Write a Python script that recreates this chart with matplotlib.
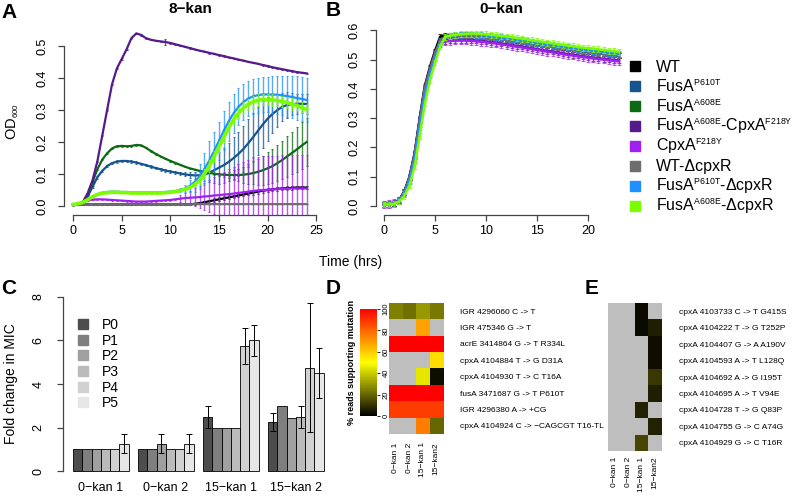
import numpy as np
import matplotlib
matplotlib.use("Agg")
import matplotlib.pyplot as plt
from matplotlib.lines import Line2D
from matplotlib.colors import LinearSegmentedColormap
import matplotlib._mathtext as mtx

plt.rcParams['font.family'] = ['Liberation Sans', 'DejaVu Sans']
plt.rcParams['mathtext.fontset'] = 'custom'
plt.rcParams['mathtext.rm'] = 'Liberation Sans'
plt.rcParams['mathtext.it'] = 'Liberation Sans:italic'
plt.rcParams['mathtext.bf'] = 'Liberation Sans:bold'
mtx.SHRINK_FACTOR = 0.55  # R draws the super/subscripts quite small

W, H = 794, 501

# ---------------- strains (legend order) ----------------
strains = ['WT',
           'FusA$^{\\mathregular{P610T}}$',
           'FusA$^{\\mathregular{A608E}}$',
           'FusA$^{\\mathregular{A608E}}$-CpxA$^{\\mathregular{F218Y}}$',
           'CpxA$^{\\mathregular{F218Y}}$',
           'WT-\u0394cpxR',
           'FusA$^{\\mathregular{P610T}}$-\u0394cpxR',
           'FusA$^{\\mathregular{A608E}}$-\u0394cpxR']
colors = ['#000000', '#17538c', '#0b6a12', '#551a8b', '#a020f0',
          '#6e6e6e', '#1e90ff', '#7cfc00']

# ---------------- panel A: 8-kan, OD600 every 0.5 h ----------------
time_a = np.arange(0, 24.5, 0.5)
od_a = [
    [0.005, 0.005, 0.005, 0.005, 0.005, 0.005, 0.005, 0.005, 0.005, 0.005,
     0.005, 0.005, 0.005, 0.005, 0.005, 0.005, 0.005, 0.005, 0.005, 0.005,
     0.005, 0.005, 0.005, 0.005, 0.005, 0.007, 0.009, 0.012, 0.015, 0.018,
     0.021, 0.024, 0.027, 0.030, 0.033, 0.036, 0.039, 0.042, 0.045, 0.048,
     0.050, 0.052, 0.054, 0.055, 0.056, 0.057, 0.058, 0.058, 0.058],
    [0.005, 0.007, 0.012, 0.030, 0.060, 0.090, 0.110, 0.125, 0.134, 0.139,
     0.141, 0.141, 0.139, 0.136, 0.132, 0.128, 0.123, 0.119, 0.115, 0.111,
     0.108, 0.105, 0.102, 0.099, 0.097, 0.096, 0.096, 0.098, 0.104, 0.112,
     0.120, 0.128, 0.138, 0.150, 0.163, 0.178, 0.196, 0.215, 0.235, 0.255,
     0.273, 0.288, 0.300, 0.310, 0.316, 0.319, 0.320, 0.320, 0.319],
    [0.005, 0.007, 0.012, 0.035, 0.075, 0.115, 0.145, 0.165, 0.180, 0.187,
     0.188, 0.187, 0.188, 0.191, 0.190, 0.182, 0.172, 0.163, 0.155, 0.148,
     0.141, 0.135, 0.129, 0.123, 0.118, 0.114, 0.110, 0.107, 0.104, 0.101,
     0.099, 0.098, 0.097, 0.097, 0.097, 0.098, 0.100, 0.103, 0.107, 0.112,
     0.118, 0.125, 0.134, 0.144, 0.155, 0.166, 0.177, 0.189, 0.200],
    [0.005, 0.007, 0.012, 0.040, 0.080, 0.140, 0.220, 0.300, 0.380, 0.430,
     0.460, 0.490, 0.525, 0.540, 0.535, 0.525, 0.520, 0.517, 0.515, 0.513,
     0.510, 0.506, 0.502, 0.498, 0.494, 0.490, 0.486, 0.483, 0.479, 0.476,
     0.472, 0.469, 0.465, 0.462, 0.458, 0.455, 0.451, 0.448, 0.445, 0.441,
     0.438, 0.434, 0.431, 0.428, 0.425, 0.422, 0.419, 0.417, 0.415],
    [0.005, 0.008, 0.013, 0.018, 0.020, 0.021, 0.021, 0.020, 0.019, 0.018,
     0.017, 0.016, 0.015, 0.014, 0.014, 0.014, 0.015, 0.016, 0.017, 0.018,
     0.019, 0.021, 0.023, 0.025, 0.026, 0.027, 0.028, 0.030, 0.031, 0.033,
     0.034, 0.036, 0.037, 0.039, 0.041, 0.043, 0.045, 0.047, 0.049, 0.050,
     0.051, 0.052, 0.053, 0.054, 0.054, 0.055, 0.055, 0.055, 0.055],
    [0.005, 0.005, 0.005, 0.005, 0.005, 0.005, 0.005, 0.005, 0.005, 0.005,
     0.005, 0.005, 0.005, 0.005, 0.005, 0.005, 0.005, 0.005, 0.005, 0.005,
     0.005, 0.005, 0.005, 0.005, 0.005, 0.006, 0.006, 0.006, 0.006, 0.006,
     0.006, 0.006, 0.006, 0.006, 0.006, 0.006, 0.006, 0.006, 0.006, 0.006,
     0.006, 0.006, 0.006, 0.006, 0.006, 0.006, 0.006, 0.006, 0.006],
    [0.005, 0.007, 0.012, 0.020, 0.030, 0.037, 0.042, 0.044, 0.045, 0.045,
     0.044, 0.044, 0.043, 0.043, 0.043, 0.043, 0.043, 0.043, 0.043, 0.044,
     0.045, 0.047, 0.050, 0.055, 0.063, 0.075, 0.092, 0.115, 0.142, 0.172,
     0.204, 0.236, 0.265, 0.290, 0.310, 0.325, 0.336, 0.343, 0.347, 0.349,
     0.349, 0.349, 0.348, 0.346, 0.344, 0.341, 0.338, 0.335, 0.332],
    [0.005, 0.007, 0.012, 0.020, 0.029, 0.036, 0.040, 0.042, 0.043, 0.043,
     0.042, 0.042, 0.041, 0.041, 0.041, 0.041, 0.041, 0.041, 0.041, 0.042,
     0.043, 0.045, 0.048, 0.052, 0.058, 0.067, 0.080, 0.100, 0.125, 0.155,
     0.185, 0.215, 0.245, 0.270, 0.290, 0.307, 0.318, 0.326, 0.331, 0.333,
     0.333, 0.332, 0.330, 0.327, 0.324, 0.319, 0.314, 0.308, 0.302],
]
sd_a = [
    [0.002, 0.002, 0.002, 0.002, 0.002, 0.002, 0.002, 0.002, 0.002, 0.002,
     0.002, 0.002, 0.002, 0.002, 0.002, 0.002, 0.002, 0.002, 0.002, 0.002,
     0.002, 0.002, 0.002, 0.002, 0.003, 0.003, 0.004, 0.005, 0.005, 0.006,
     0.006, 0.006, 0.006, 0.006, 0.006, 0.006, 0.006, 0.006, 0.006, 0.006,
     0.006, 0.006, 0.006, 0.006, 0.006, 0.006, 0.006, 0.006, 0.006],
    [0.004, 0.004, 0.004, 0.004, 0.004, 0.004, 0.004, 0.004, 0.004, 0.004,
     0.004, 0.004, 0.004, 0.004, 0.004, 0.004, 0.004, 0.004, 0.004, 0.004,
     0.004, 0.004, 0.005, 0.006, 0.008, 0.010, 0.015, 0.020, 0.030, 0.040,
     0.050, 0.055, 0.060, 0.065, 0.070, 0.072, 0.075, 0.075, 0.075, 0.072,
     0.068, 0.060, 0.052, 0.045, 0.040, 0.035, 0.032, 0.030, 0.030],
    [0.002, 0.002, 0.002, 0.002, 0.002, 0.002, 0.002, 0.002, 0.002, 0.002,
     0.002, 0.002, 0.002, 0.002, 0.002, 0.002, 0.002, 0.002, 0.002, 0.002,
     0.002, 0.002, 0.002, 0.002, 0.002, 0.002, 0.002, 0.002, 0.002, 0.003,
     0.004, 0.006, 0.010, 0.015, 0.020, 0.025, 0.030, 0.035, 0.040, 0.045,
     0.050, 0.053, 0.056, 0.060, 0.063, 0.066, 0.070, 0.073, 0.075],
    [0.002, 0.002, 0.002, 0.002, 0.002, 0.002, 0.002, 0.002, 0.002, 0.002,
     0.002, 0.002, 0.002, 0.002, 0.002, 0.002, 0.002, 0.002, 0.002, 0.010,
     0.002, 0.002, 0.002, 0.002, 0.002, 0.002, 0.002, 0.002, 0.002, 0.002,
     0.002, 0.002, 0.002, 0.002, 0.002, 0.002, 0.002, 0.002, 0.002, 0.002,
     0.002, 0.002, 0.002, 0.002, 0.002, 0.002, 0.002, 0.002, 0.002],
    [0.002, 0.002, 0.002, 0.002, 0.002, 0.002, 0.002, 0.002, 0.002, 0.002,
     0.002, 0.002, 0.002, 0.002, 0.002, 0.002, 0.002, 0.002, 0.002, 0.002,
     0.002, 0.002, 0.010, 0.015, 0.020, 0.028, 0.035, 0.042, 0.050, 0.058,
     0.065, 0.072, 0.078, 0.084, 0.090, 0.095, 0.100, 0.105, 0.105, 0.105,
     0.105, 0.105, 0.105, 0.105, 0.105, 0.105, 0.105, 0.105, 0.105],
    [0.001, 0.001, 0.001, 0.001, 0.001, 0.001, 0.001, 0.001, 0.001, 0.001,
     0.001, 0.001, 0.001, 0.001, 0.001, 0.001, 0.001, 0.001, 0.001, 0.001,
     0.001, 0.001, 0.001, 0.001, 0.001, 0.001, 0.001, 0.001, 0.001, 0.001,
     0.001, 0.001, 0.001, 0.001, 0.001, 0.001, 0.001, 0.001, 0.001, 0.001,
     0.001, 0.001, 0.001, 0.001, 0.001, 0.001, 0.001, 0.001, 0.001],
    [0.002, 0.002, 0.002, 0.002, 0.002, 0.002, 0.002, 0.002, 0.002, 0.002,
     0.002, 0.002, 0.002, 0.002, 0.002, 0.002, 0.002, 0.002, 0.002, 0.002,
     0.002, 0.003, 0.005, 0.010, 0.020, 0.030, 0.040, 0.050, 0.060, 0.060,
     0.060, 0.060, 0.060, 0.060, 0.058, 0.056, 0.055, 0.055, 0.055, 0.055,
     0.056, 0.058, 0.060, 0.062, 0.064, 0.066, 0.068, 0.070, 0.070],
    [0.002, 0.002, 0.002, 0.002, 0.002, 0.002, 0.002, 0.002, 0.002, 0.002,
     0.002, 0.002, 0.002, 0.002, 0.002, 0.002, 0.002, 0.002, 0.002, 0.002,
     0.002, 0.002, 0.002, 0.002, 0.002, 0.005, 0.010, 0.015, 0.018, 0.018,
     0.018, 0.018, 0.018, 0.018, 0.018, 0.018, 0.018, 0.018, 0.018, 0.018,
     0.018, 0.018, 0.018, 0.018, 0.018, 0.018, 0.018, 0.018, 0.018],
]

# ---------------- panel B: 0-kan, OD600 every 0.5 h ----------------
time_b = np.arange(0, 23.5, 0.5)
rise_b = [
    [0.005, 0.006, 0.009, 0.020, 0.050, 0.100, 0.180, 0.300, 0.410, 0.475, 0.530, 0.578],
    [0.005, 0.006, 0.009, 0.019, 0.047, 0.095, 0.172, 0.290, 0.400, 0.465, 0.520, 0.565],
    [0.005, 0.006, 0.009, 0.019, 0.046, 0.094, 0.170, 0.288, 0.398, 0.463, 0.518, 0.563],
    [0.005, 0.006, 0.009, 0.020, 0.048, 0.097, 0.176, 0.295, 0.405, 0.468, 0.522, 0.560],
    [0.005, 0.006, 0.009, 0.019, 0.046, 0.093, 0.168, 0.283, 0.392, 0.458, 0.512, 0.555],
    [0.005, 0.006, 0.009, 0.019, 0.047, 0.095, 0.172, 0.290, 0.400, 0.465, 0.520, 0.566],
    [0.005, 0.005, 0.008, 0.017, 0.042, 0.086, 0.158, 0.270, 0.380, 0.448, 0.505, 0.555],
    [0.005, 0.005, 0.007, 0.015, 0.035, 0.070, 0.135, 0.240, 0.350, 0.430, 0.490, 0.545],
]
plateau_b = [
    [0.584, 0.580, 0.580, 0.581, 0.581, 0.581, 0.580, 0.579, 0.577, 0.575,
     0.573, 0.571, 0.569, 0.566, 0.564, 0.561, 0.559, 0.556, 0.553, 0.550,
     0.548, 0.545, 0.542, 0.540, 0.537, 0.534, 0.532, 0.529, 0.527, 0.525,
     0.522, 0.520, 0.518, 0.516, 0.514],
    [0.578, 0.580, 0.581, 0.582, 0.582, 0.582, 0.581, 0.580, 0.578, 0.576,
     0.574, 0.572, 0.570, 0.567, 0.565, 0.562, 0.560, 0.557, 0.554, 0.551,
     0.549, 0.546, 0.543, 0.541, 0.538, 0.535, 0.533, 0.530, 0.528, 0.526,
     0.523, 0.521, 0.519, 0.517, 0.515],
    [0.580, 0.583, 0.584, 0.585, 0.585, 0.585, 0.584, 0.583, 0.581, 0.579,
     0.577, 0.575, 0.573, 0.570, 0.568, 0.565, 0.563, 0.560, 0.557, 0.554,
     0.552, 0.549, 0.546, 0.544, 0.541, 0.538, 0.536, 0.533, 0.531, 0.529,
     0.526, 0.524, 0.522, 0.520, 0.518],
    [0.565, 0.567, 0.568, 0.568, 0.568, 0.567, 0.566, 0.564, 0.562, 0.560,
     0.558, 0.555, 0.553, 0.550, 0.547, 0.545, 0.542, 0.539, 0.536, 0.533,
     0.530, 0.528, 0.525, 0.522, 0.519, 0.517, 0.514, 0.512, 0.509, 0.507,
     0.505, 0.503, 0.501, 0.499, 0.497],
    [0.562, 0.564, 0.565, 0.565, 0.565, 0.564, 0.563, 0.561, 0.559, 0.557,
     0.555, 0.552, 0.550, 0.547, 0.544, 0.542, 0.539, 0.536, 0.533, 0.530,
     0.527, 0.525, 0.522, 0.519, 0.516, 0.514, 0.511, 0.509, 0.506, 0.504,
     0.502, 0.500, 0.498, 0.496, 0.494],
    [0.576, 0.579, 0.580, 0.581, 0.581, 0.581, 0.580, 0.579, 0.577, 0.575,
     0.573, 0.571, 0.568, 0.566, 0.563, 0.561, 0.558, 0.556, 0.553, 0.550,
     0.547, 0.545, 0.542, 0.539, 0.537, 0.534, 0.531, 0.529, 0.527, 0.524,
     0.522, 0.520, 0.518, 0.516, 0.514],
    [0.575, 0.582, 0.584, 0.585, 0.586, 0.586, 0.585, 0.584, 0.582, 0.580,
     0.578, 0.576, 0.574, 0.571, 0.569, 0.566, 0.564, 0.561, 0.558, 0.555,
     0.553, 0.550, 0.547, 0.545, 0.542, 0.539, 0.537, 0.534, 0.532, 0.530,
     0.527, 0.525, 0.523, 0.521, 0.519],
    [0.578, 0.582, 0.585, 0.587, 0.588, 0.589, 0.589, 0.588, 0.587, 0.585,
     0.583, 0.581, 0.579, 0.577, 0.574, 0.572, 0.569, 0.566, 0.564, 0.561,
     0.558, 0.556, 0.553, 0.551, 0.548, 0.546, 0.543, 0.541, 0.539, 0.537,
     0.535, 0.533, 0.531, 0.529, 0.527],
]
sd_b = [0.008, 0.008, 0.008, 0.010, 0.013, 0.008, 0.010, 0.010]

# ---------------- panel C: fold change in MIC ----------------
populations = ['0\u2212kan 1', '0\u2212kan 2', '15\u2212kan 1', '15\u2212kan 2']
passages = ['P0', 'P1', 'P2', 'P3', 'P4', 'P5']
fold = [[1, 1, 1, 1, 1, 1.25],
        [1, 1, 1.25, 1, 1, 1.25],
        [2.5, 2, 2, 2, 5.75, 6],
        [2.25, 3, 2.45, 2.5, 4.75, 4.5]]
fold_err = [[0, 0, 0, 0, 0, 0.43],
            [0, 0, 0.43, 0, 0, 0.43],
            [0.5, 0, 0, 0, 0.83, 0.71],
            [0.43, 0, 0, 0.5, 2.95, 1.15]]
greys = ['#4d4d4d', '#7f7f7f', '#a0a0a0', '#bbbbbb', '#d1d1d1', '#e6e6e6']

# ---------------- panels D, E: % reads supporting mutation ----------------
seq_cols = ['0\u2212kan 1', '0\u2212kan 2', '15\u2212kan 1', '15\u2212kan2']
d_rows = ['IGR 4296060 C -> T', 'IGR 475346 G -> T', 'acrE 3414864 G -> T R334L',
          'cpxA 4104884 T -> G D31A', 'cpxA 4104930 T -> C T16A',
          'fusA 3471687 G -> T P610T', 'IGR 4296380 A -> +CG',
          'cpxA 4104924 C -> \u2212CAGCGT T16-TL']
d_vals = [[25, 22, 30, 24],
          [np.nan, np.nan, 68, np.nan],
          [100, 100, 100, 100],
          [np.nan, np.nan, np.nan, 57],
          [np.nan, np.nan, 45, 3],
          [100, 100, 100, 100],
          [88, 88, 88, 88],
          [np.nan, np.nan, 75, 20]]
e_rows = ['cpxA 4103733 C -> T G415S', 'cpxA 4104222 T -> G T252P',
          'cpxA 4104407 G -> A A190V', 'cpxA 4104593 A -> T L128Q',
          'cpxA 4104692 A -> G I195T', 'cpxA 4104695 A -> T V94E',
          'cpxA 4104728 T -> G Q83P', 'cpxA 4104755 G -> C A74G',
          'cpxA 4104929 G -> C T16R']
e_vals = [[np.nan, np.nan, 2, np.nan],
          [np.nan, np.nan, 2, 6],
          [np.nan, np.nan, np.nan, 3],
          [np.nan, np.nan, np.nan, 3],
          [np.nan, np.nan, np.nan, 11],
          [np.nan, np.nan, np.nan, 6],
          [np.nan, np.nan, 7, np.nan],
          [np.nan, np.nan, np.nan, 7],
          [np.nan, np.nan, 14, np.nan]]


def box(l, t, r, b):
    return [l / W, 1 - b / H, (r - l) / W, (b - t) / H]


def r_axes(ax, xb, yb, ypad=7):
    for s in ['top', 'right']:
        ax.spines[s].set_visible(False)
    ax.spines['left'].set_bounds(*yb)
    ax.spines['bottom'].set_bounds(*xb)
    for s in ['left', 'bottom']:
        ax.spines[s].set_color('#444444')
        ax.spines[s].set_linewidth(0.9)
    ax.tick_params(colors='#444444', labelcolor='black', length=4.5, width=0.9,
                   labelsize=9)
    ax.tick_params(axis='y', labelrotation=90, pad=ypad)
    ax.tick_params(axis='x', pad=2.5)
    for lab in ax.get_yticklabels():
        lab.set_va('center')


fig = plt.figure(figsize=(W / 100, H / 100), dpi=100)

# ---- A ----
axA = fig.add_axes(box(64, 27, 325, 215))
for i in range(8):
    lw = 2.6 if i == 7 else 1.6
    axA.errorbar(time_a, od_a[i], yerr=sd_a[i], fmt='none', ecolor=colors[i],
                 elinewidth=1.0, capsize=1.0, capthick=0.8, alpha=0.75)
    axA.plot(time_a, od_a[i], color=colors[i], lw=lw)
axA.set_xlim(-0.93, 25.9)
axA.set_ylim(-0.028, 0.56)
axA.set_xticks([0, 5, 10, 15, 20, 25])
axA.set_yticks([0, 0.1, 0.2, 0.3, 0.4, 0.5])
axA.set_yticklabels(['0.0', '0.1', '0.2', '0.3', '0.4', '0.5'])
r_axes(axA, (0, 25), (0, 0.5))
axA.set_ylabel('OD$_{600}$', fontsize=10.5, labelpad=11)
fig.text(190 / W, 1 - 9 / H, '8\u2212kan', fontsize=11, fontweight='bold', ha='center', va='center')

# ---- B ----
axB = fig.add_axes(box(376, 26, 624, 215))
for i in range(8):
    vals = rise_b[i] + plateau_b[i]
    axB.errorbar(time_b, vals, yerr=sd_b[i], fmt='none', ecolor=colors[i],
                 elinewidth=1.0, capsize=1.2, capthick=0.8, alpha=0.7)
    axB.plot(time_b, vals, color=colors[i], lw=1.8)
axB.set_xlim(-0.78, 23.5)
axB.set_ylim(-0.031, 0.615)
axB.set_xticks([0, 5, 10, 15, 20])
axB.set_yticks([0, 0.1, 0.2, 0.3, 0.4, 0.5, 0.6])
axB.set_yticklabels(['0.0', '0.1', '0.2', '0.3', '0.4', '0.5', '0.6'])
r_axes(axB, (0, 20), (0, 0.6))
fig.text(501 / W, 1 - 9 / H, '0\u2212kan', fontsize=11, fontweight='bold', ha='center', va='center')

fig.text(351 / W, 1 - 262 / H, 'Time (hrs)', ha='center', va='center', fontsize=10)

# legend of strains, one row every 20 px
for i, (lab, c) in enumerate(zip(strains, colors)):
    yc = 66 + 20 * i
    fig.add_artist(Line2D([635 / W], [1 - yc / H], marker='s', ls='none', color=c,
                          markersize=7, transform=fig.transFigure))
    fig.text(656 / W, 1 - (yc + 5.5) / H, lab, fontsize=11.5, ha='left', va='baseline')

# ---- C ----
axC = fig.add_axes(box(63, 290, 333, 478))
for g in range(4):
    for p in range(6):
        x = g * 7 + p + 0.5
        axC.bar(x, fold[g][p], width=1, color=greys[p], edgecolor='black', lw=0.6)
        if fold_err[g][p] > 0:
            axC.errorbar(x, fold[g][p], yerr=fold_err[g][p], fmt='none',
                         ecolor='black', elinewidth=0.7, capsize=2.5, capthick=0.7)
axC.set_xlim(-1.08, 28)
axC.set_ylim(-0.32, 8.32)
axC.set_yticks([0, 2, 4, 6, 8])
r_axes(axC, (0, 27), (0, 8), ypad=9)
axC.spines['bottom'].set_visible(False)
axC.set_xticks([3, 10, 17, 24])
axC.set_xticklabels(populations)
axC.tick_params(axis='x', length=0, pad=3)
axC.set_ylabel('Fold change in MIC', fontsize=10, labelpad=10)
hc = [Line2D([], [], marker='s', ls='none', color=c, markersize=6.5) for c in greys]
axC.legend(hc, passages, loc='upper left', bbox_to_anchor=((77 - 63) / 270, (478 - 318) / 188),
           frameon=False, fontsize=10, handlelength=0.8, handletextpad=1.0,
           labelspacing=0.12, borderpad=0, borderaxespad=0)

# ---- D, E ----
cmap = LinearSegmentedColormap.from_list('byr', ['black', 'yellow', 'red']).with_extremes(bad='#bebebe')


def heat(ax, vals, rows, pad_x):
    im = ax.imshow(np.ma.masked_invalid(np.array(vals, dtype=float)), cmap=cmap,
                   vmin=0, vmax=100, aspect='auto', interpolation='nearest')
    for s in ax.spines.values():
        s.set_visible(False)
    ax.yaxis.tick_right()
    ax.set_yticks(range(len(rows)))
    ax.set_yticklabels(rows, fontsize=6)
    ax.set_xticks(range(4))
    ax.set_xticklabels(seq_cols, rotation=90, fontsize=6)
    ax.tick_params(axis='y', length=0, pad=12)
    ax.tick_params(axis='x', length=0, pad=pad_x)
    return im


axD = fig.add_axes(box(389, 303, 443, 434))
imD = heat(axD, d_vals, d_rows, 6)
axE = fig.add_axes(box(608, 303, 662, 451))
heat(axE, e_vals, e_rows, 4)

cax = fig.add_axes(box(360, 309, 377, 416))
cb = fig.colorbar(imD, cax=cax, ticks=[0, 20, 40, 60, 80, 100])
cb.outline.set_visible(False)
cax.tick_params(labelsize=5.5, length=2.5, width=0.6, pad=1.5)
for lab in cax.get_yticklabels():
    lab.set_rotation(90)
    lab.set_va('center')
cax.yaxis.set_label_position('left')
cax.set_ylabel('% reads supporting mutation', fontsize=6.5, fontweight='bold', labelpad=3)

# ---- panel letters ----
for letter, (x, y) in zip('ABCDE', [(9, 12), (333, 11), (9, 288), (333, 289), (592, 288)]):
    fig.text(x / W, 1 - y / H, letter, fontsize=15, fontweight='bold', ha='center', va='center')

fig.savefig('out.png', dpi=100)
